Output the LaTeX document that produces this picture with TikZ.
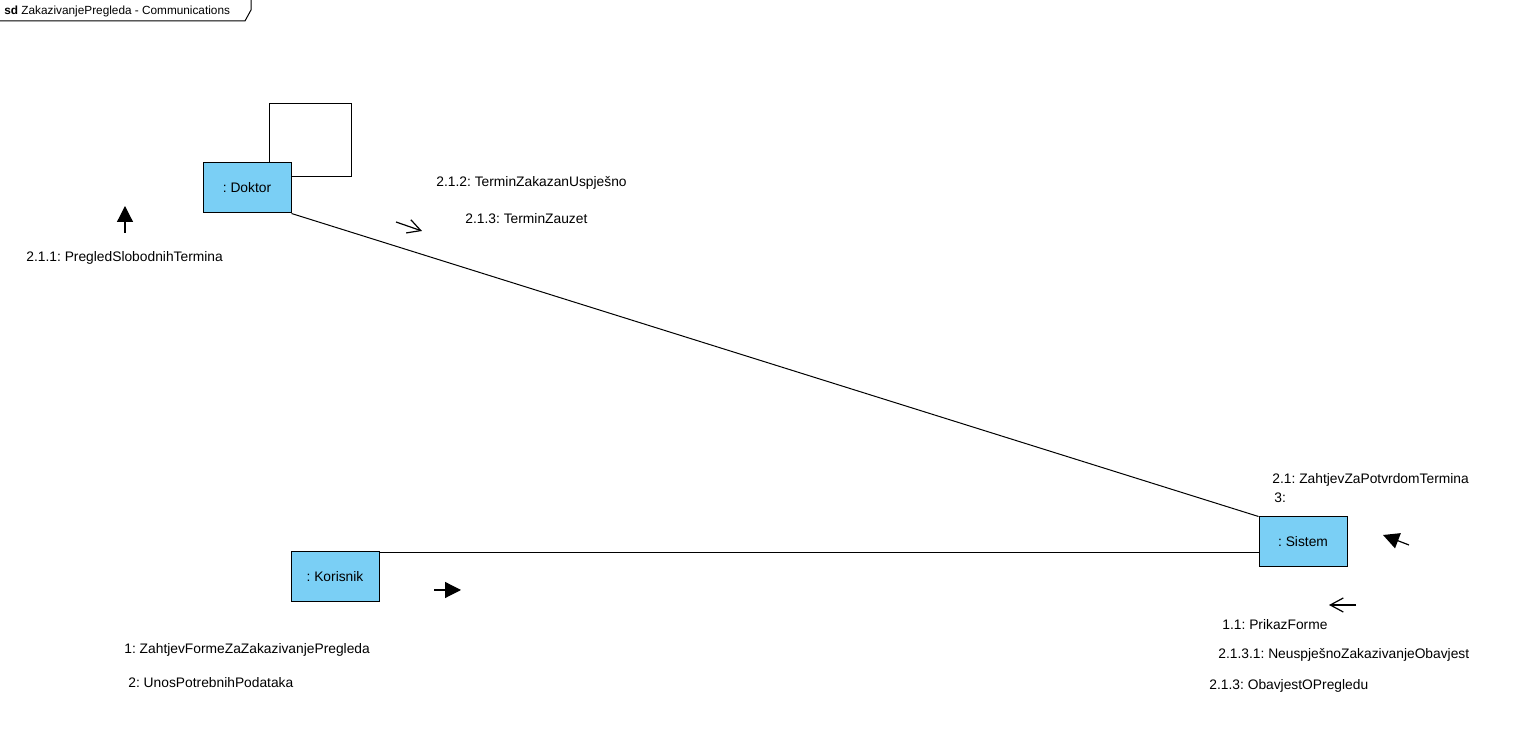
\documentclass[tikz,border=0pt]{standalone}
\usepackage{fontspec}
\setmainfont{Liberation Sans}
\usepackage{xcolor}
\usetikzlibrary{arrows.meta, calc}
\frenchspacing

\definecolor{objblue}{HTML}{7ACFF5}

\begin{document}
\begin{tikzpicture}[x=0.5pt, y=-0.5pt,
    box/.style={rectangle, draw, line width=0.5pt, fill=objblue, minimum width=44pt, minimum height=25pt, inner sep=0pt, font=\fontsize{6.9}{8}\selectfont},
    msg/.style={anchor=west, inner sep=0pt, font=\fontsize{6.9}{8}\selectfont},
    link/.style={line width=0.5pt},
    fullarrow/.style={-{Triangle[length=8pt, width=8pt]}, line width=0.6pt},
    openarrow/.style={-{Straight Barb[length=6.5pt, width=7pt]}, line width=0.6pt}]
    \useasboundingbox (0,0) rectangle (1521,747);

    % Frame tag
    \draw[line width=0.5pt] (0,21) -- (245,21) -- (251,10) -- (251,0);
    \node[anchor=west, inner sep=0pt, font=\fontsize{5.9}{7}\selectfont] (tag) at (4,11) {\textbf{sd} ZakazivanjePregleda - Communications};

    % Objects
    \node[box] (dok) at (247,188) {: Doktor};
    \node[box] (kor) at (335,577) {: Korisnik};
    \node[box] (sis) at (1303,542) {: Sistem};

    % Links
    \draw[link] (dok.south east) -- (sis.north west);
    \draw[link] ($(kor.north east)+(0,1)$) -- ($(sis.west |- kor.north east)+(0,1)$);
    \draw[link] ($(dok.north west)+(67,0)$) -- ++(0,-59) -- ++(82,0) -- ++(0,73) -- ($(dok.north east)+(0,14)$);

    % Message directions
    \coordinate (up0) at (125,233);
    \coordinate (up1) at (125,206);
    \coordinate (dn0) at (396,222);
    \coordinate (dn1) at (422,231);
    \coordinate (kr0) at (434,590);
    \coordinate (kr1) at (461,590);
    \coordinate (ss0) at (1409,545);
    \coordinate (ss1) at (1383,535);
    \coordinate (sl0) at (1356,605);
    \coordinate (sl1) at (1329,605);
    \draw[fullarrow] (up0) -- (up1);
    \draw[openarrow] (dn0) -- (dn1);
    \draw[fullarrow] (kr0) -- (kr1);
    \draw[fullarrow] (ss0) -- (ss1);
    \draw[openarrow] (sl0) -- (sl1);

    % Messages
    \node[msg] (m211) at (26,258) {2.1.1: PregledSlobodnihTermina};
    \node[msg] (m212) at (436,183) {2.1.2: TerminZakazanUspješno};
    \node[msg] (m213a) at (465,219) {2.1.3: TerminZauzet};
    \node[msg] (m21) at (1272,480) {2.1: ZahtjevZaPotvrdomTermina};
    \node[msg] (m3) at (1274,498) {3:};
    \node[msg] (m11) at (1222,625) {1.1: PrikazForme};
    \node[msg] (m2131) at (1218,655) {2.1.3.1: NeuspješnoZakazivanjeObavjest};
    \node[msg] (m213b) at (1209,686) {2.1.3: ObavjestOPregledu};
    \node[msg] (m1) at (124,650) {1: ZahtjevFormeZaZakazivanjePregleda};
    \node[msg] (m2) at (128,683) {2: UnosPotrebnihPodataka};
\end{tikzpicture}
\end{document}
